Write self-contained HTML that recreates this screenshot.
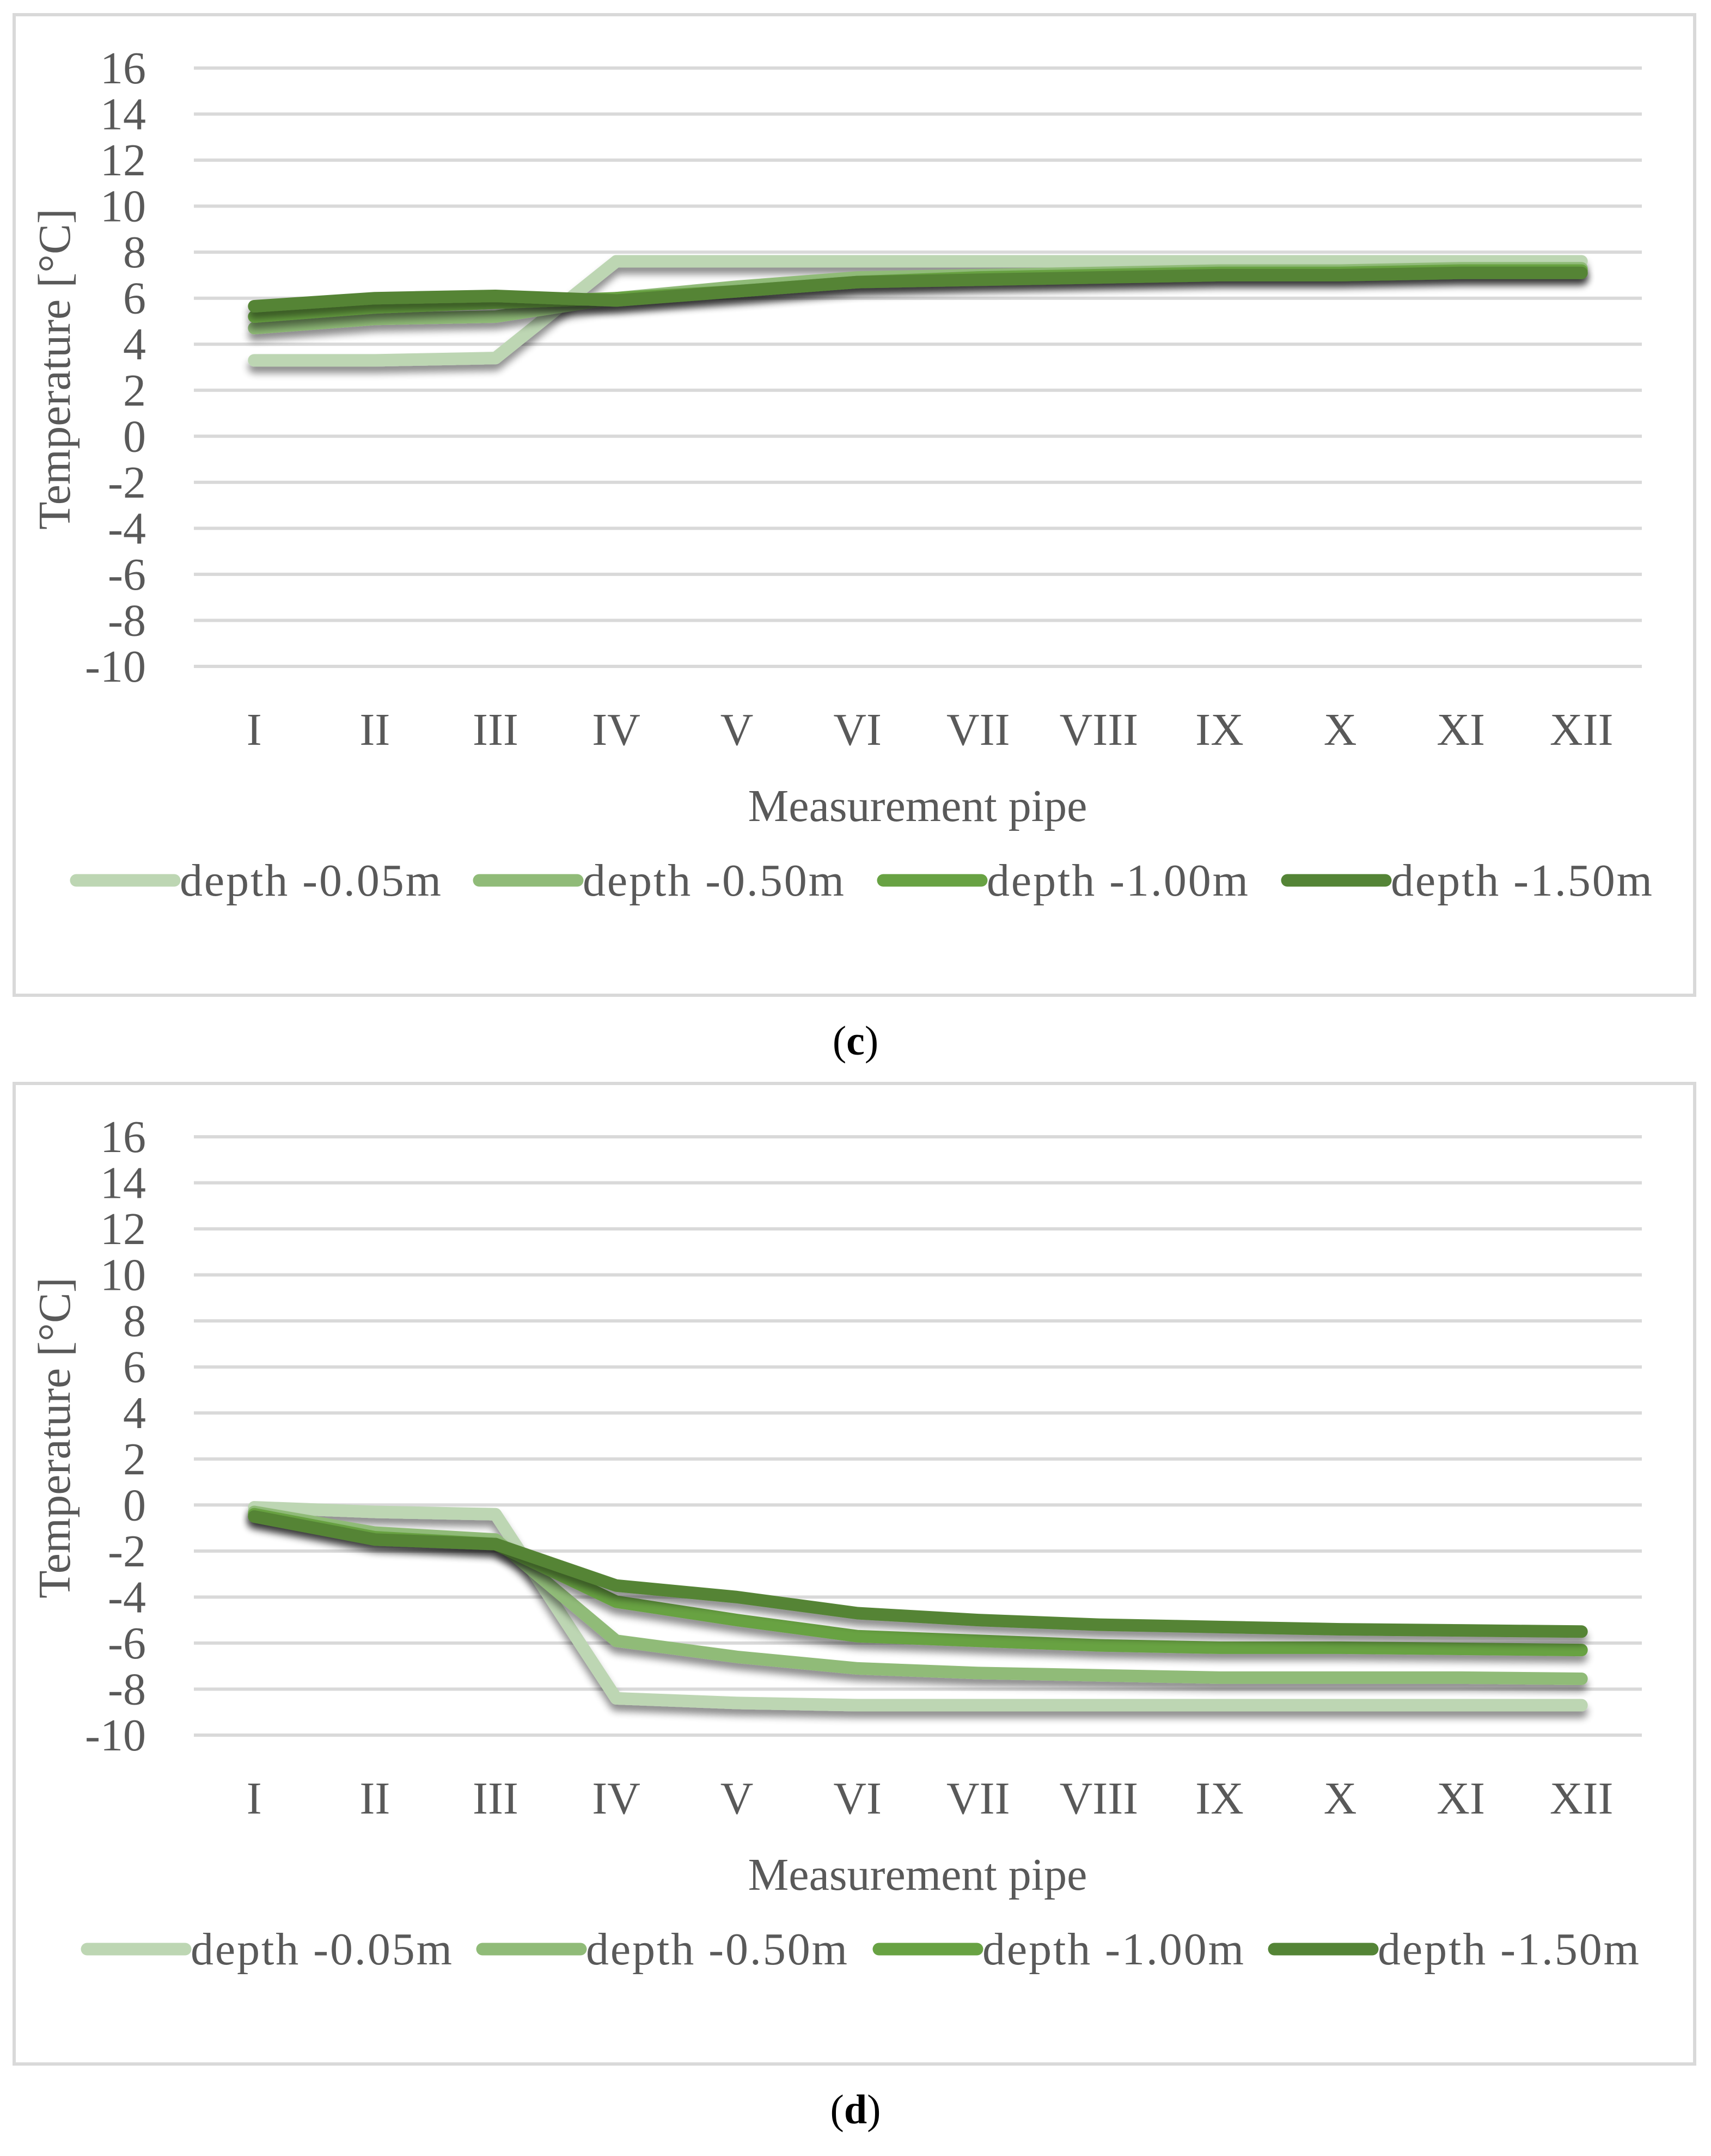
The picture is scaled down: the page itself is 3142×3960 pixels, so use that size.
<!DOCTYPE html>
<html><head><meta charset="utf-8"><style>
html,body{margin:0;padding:0;background:#fff;}
svg{display:block;}
text{font-family:"Liberation Serif",serif;}
</style></head><body>
<svg id="root" width="3142" height="3960" viewBox="0 0 3142 3960" xmlns="http://www.w3.org/2000/svg">
<defs>
<filter id="sh" x="-5%" y="-50%" width="110%" height="200%">
<feGaussianBlur in="SourceAlpha" stdDeviation="7"/>
<feOffset dx="0" dy="12" result="b"/>
<feComponentTransfer><feFuncA type="linear" slope="0.45"/></feComponentTransfer>
<feMerge><feMergeNode/><feMergeNode in="SourceGraphic"/></feMerge>
</filter>
</defs>
</svg>
<script>
const categories = ["I","II","III","IV","V","VI","VII","VIII","IX","X","XI","XII"];
const yTicks = [16,14,12,10,8,6,4,2,0,-2,-4,-6,-8,-10];
const seriesNames = ["depth -0.05m","depth -0.50m","depth -1.00m","depth -1.50m"];
const c005 = [3.3,3.3,3.4,7.6,7.6,7.6,7.6,7.6,7.6,7.6,7.6,7.6];
const c050 = [4.7,5.1,5.2,6.0,6.5,6.9,7.0,7.1,7.2,7.2,7.3,7.3];
const c100 = [5.2,5.6,5.8,6.0,6.3,6.7,6.9,7.0,7.1,7.1,7.2,7.2];
const c150 = [5.65,6.0,6.1,5.9,6.3,6.7,6.8,6.9,7.0,7.0,7.1,7.1];
const d005 = [-0.1,-0.3,-0.4,-8.4,-8.6,-8.7,-8.7,-8.7,-8.7,-8.7,-8.7,-8.7];
const d050 = [-0.3,-1.2,-1.5,-5.9,-6.6,-7.1,-7.3,-7.4,-7.5,-7.5,-7.5,-7.55];
const d100 = [-0.4,-1.4,-1.7,-4.2,-5.0,-5.7,-5.9,-6.1,-6.2,-6.2,-6.25,-6.3];
const d150 = [-0.5,-1.5,-1.7,-3.5,-4.0,-4.7,-5.0,-5.2,-5.3,-5.4,-5.45,-5.5];
const colors = ["#bdd6b3","#90bb78","#68a243","#548436"];
const NS="http://www.w3.org/2000/svg";
const root=document.getElementById('root');
function mk(tag,attrs,parent,txt){const e=document.createElementNS(NS,tag);for(const k in attrs)e.setAttribute(k,attrs[k]);if(txt!==undefined)e.textContent=txt;(parent||root).appendChild(e);return e;}
function panel(off,data,label,legX,key){
  const g=mk('g',{});
  
  
  const border=mk('rect',{x:26,y:off+27,width:3086,height:1801,fill:'#fff',stroke:'#d9d9d9','stroke-width':6},g);
  
  
  const x0=356,x1=3015,yTop=off+125,yBot=off+1224;
  const y=v=>yTop+(16-v)/26*(yBot-yTop);
  const bw=(x1-x0)/categories.length;
  const x=i=>x0+bw*(i+0.5);
  yTicks.forEach(t=>{
    const l=mk('line',{x1:x0,x2:x1,y1:y(t),y2:y(t),stroke:'#d9d9d9','stroke-width':6},g);
    
    
    const tx=mk('text',{x:268,y:y(t)+28,'text-anchor':'end','font-size':84,fill:'#595959'},g,String(t));
    
    
  });
  categories.forEach((c,i)=>{
    const tx=mk('text',{x:x(i),y:off+1368,'text-anchor':'middle','font-size':84,fill:'#595959'},g,c);
    
    
  });
  const yt=mk('text',{x:0,y:0,transform:'translate(128,'+(off+678)+') rotate(-90)','text-anchor':'middle','font-size':84,fill:'#595959'},g,'Temperature [°C]');
  
  
  const xt=mk('text',{x:1685,y:off+1508,'text-anchor':'middle','font-size':84,fill:'#595959'},g,'Measurement pipe');
  
  
  data.forEach((s,k)=>{
    const p=mk('polyline',{points:s.map((v,i)=>x(i)+','+y(v)).join(' '),fill:'none',stroke:colors[k],'stroke-width':23,'stroke-linejoin':'round','stroke-linecap':'round',filter:'url(#sh)'},g);
    
    
  });
  seriesNames.forEach((n,k)=>{
    const lx=legX[k], ly=off+1617;
    const ln=mk('line',{x1:lx,x2:lx+180,y1:ly,y2:ly,stroke:colors[k],'stroke-width':23,'stroke-linecap':'round'},g);
    
    
    const tx=mk('text',{x:lx+190,y:ly+28,'font-size':84,fill:'#595959',textLength:480},g,n);
    
    
  });
  const cap=mk('text',{x:1571,y:off+1937,'text-anchor':'middle','font-size':76,fill:'#000'},g);
  
  
  mk('tspan',{},cap,'(');mk('tspan',{'font-weight':'bold'},cap,label);mk('tspan',{},cap,')');
}
panel(0,[c005,c050,c100,c150],'c',[140,880,1622,2364],'c');
panel(1963,[d005,d050,d100,d150],'d',[160,886,1614,2340],'d');
</script>
</body></html>
